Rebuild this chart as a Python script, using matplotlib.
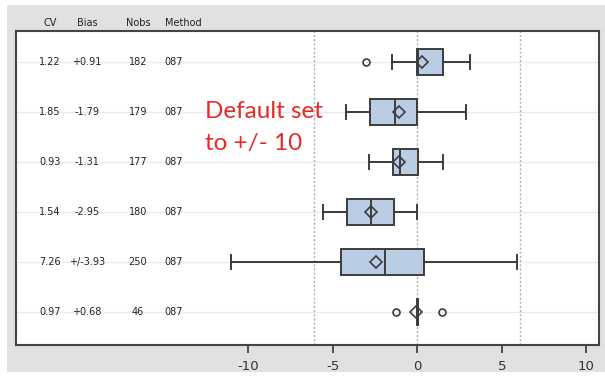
import matplotlib.pyplot as plt
from matplotlib.patches import Rectangle

# rows top to bottom
cv = ['1.22', '1.85', '0.93', '1.54', '7.26', '0.97']
bias = ['+0.91', '-1.79', '-1.31', '-2.95', '+/-3.93', '+0.68']
nobs = ['182', '179', '177', '180', '250', '46']
method = ['087', '087', '087', '087', '087', '087']

whislo = [-1.5, -4.2, -2.85, -5.55, -11.0, 0.0]
q1 = [0.0, -2.8, -1.4, -4.15, -4.5, 0.0]
med = [0.05, -1.3, -1.0, -2.7, -1.9, 0.05]
q3 = [1.5, 0.0, 0.05, -1.35, 0.4, 0.05]
whishi = [3.1, 2.9, 1.5, 0.0, 5.9, 0.05]
mean = [0.3, -1.1, -1.1, -2.7, -2.45, -0.07]
fliers = [[-3.0], [], [], [], [], [-1.27, 1.45]]

ref_lines = [-6.1, 0, 6.1]
note = ['Default set', 'to +/- 10']

W, H = 605, 376
fig = plt.figure(figsize=(W / 100, H / 100), dpi=100)
fig.patch.set_facecolor('white')
fig.patches.append(Rectangle((7 / W, 1 - 372 / H), 1 - 7 / W, (372 - 5) / H,
                             transform=fig.transFigure, facecolor='#e1e1e1',
                             edgecolor='none', zorder=-10))

ax = fig.add_axes([16 / W, 1 - 345 / H, 583 / W, 314 / H])
ax.set_facecolor('white')

stats = []
for i in range(len(cv)):
    stats.append(dict(whislo=whislo[i], q1=q1[i], med=med[i], q3=q3[i],
                      whishi=whishi[i], mean=mean[i], fliers=fliers[i]))

pos = list(range(len(cv)))
for y in pos:
    ax.axhline(y, color='#ebebeb', lw=1, zorder=0)
for x in ref_lines:
    ax.axvline(x, color='#b0b0b0', lw=1, ls=(0, (1.5, 1.5)), zorder=0.5)

edge = '#3c3c3c'
ax.bxp(stats, positions=pos, vert=False, widths=0.52, patch_artist=True,
       showmeans=True, showfliers=True,
       boxprops=dict(facecolor='#b9cde5', edgecolor=edge, lw=1.4),
       medianprops=dict(color=edge, lw=1.4),
       whiskerprops=dict(color=edge, lw=1.4),
       capprops=dict(color=edge, lw=1.4),
       capwidths=0.28,
       meanprops=dict(marker='D', markerfacecolor='none', markeredgecolor=edge,
                      markersize=6.5, markeredgewidth=1.2),
       flierprops=dict(marker='o', markerfacecolor='none', markeredgecolor=edge,
                       markersize=5, markeredgewidth=1.2))

ax.set_xlim(-23.7, 10.74)
ax.set_ylim(5.66, -0.62)
ax.set_yticks([])
ax.set_xticks([-10, -5, 0, 5, 10])
ax.set_xticklabels(['-10', '-5', '0', '5', '10'], fontsize=9.5, color='#333333')
ax.tick_params(axis='x', length=6, width=1.3, color='#444444', pad=5)
for s in ax.spines.values():
    s.set_color('#444444')
    s.set_linewidth(1.5)

# table columns (x in data units)
cols = [(-21.7, cv, 'CV'), (-19.5, bias, 'Bias'), (-16.5, nobs, 'Nobs'),
        (-14.4, method, None)]
for x, vals, head in cols:
    for y, v in zip(pos, vals):
        ax.text(x, y, v, ha='center', va='center', fontsize=7, color='#222222')
    if head:
        ax.text(x, -0.78, head, ha='center', va='center', fontsize=7,
                color='#222222', clip_on=False)
ax.text(-13.8, -0.78, 'Method', ha='center', va='center', fontsize=7,
        color='#222222', clip_on=False)

# red annotation, one line at a time
for yb, line in zip([1.12, 1.76], note):
    ax.text(-12.54, yb, line, ha='left', va='baseline',
            fontsize=17.5, color='#e62a2a', family='Lato')

fig.savefig('out.png', dpi=100, facecolor='white')
